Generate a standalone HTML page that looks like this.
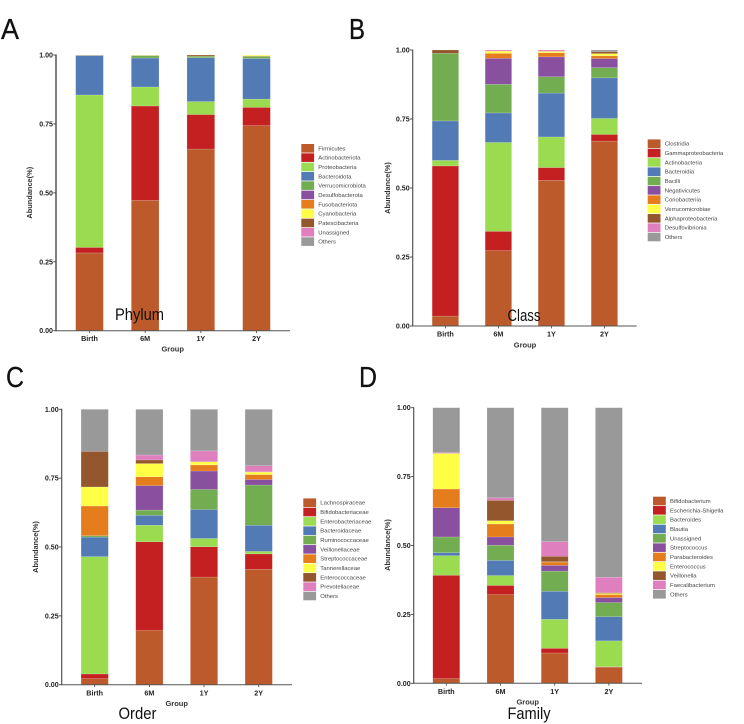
<!DOCTYPE html>
<html lang="en">
<head>
<meta charset="utf-8">
<title>Microbial composition stacked bar charts</title>
<style>
html,body{margin:0;padding:0;background:#fff;width:744px;height:724px;overflow:hidden}
#figure{display:block;filter:blur(0.35px)}
text{font-family:"Liberation Sans",Arial,sans-serif}
.panel-letter{font-size:29px;fill:#111;stroke:#111;stroke-width:0.3px}
.level-title{font-size:16.5px;fill:#111}
</style>
</head>
<body>
<svg id="figure" width="744" height="724" viewBox="0 0 744 724" xmlns="http://www.w3.org/2000/svg">
  <rect width="744" height="724" fill="#ffffff"/>
  <text class="panel-letter" x="1" y="39" textLength="18" lengthAdjust="spacingAndGlyphs">A</text>
  <text class="panel-letter" x="349" y="39" textLength="16" lengthAdjust="spacingAndGlyphs">B</text>
  <text class="panel-letter" x="6" y="387" textLength="18" lengthAdjust="spacingAndGlyphs">C</text>
  <text class="panel-letter" x="359" y="387" textLength="18" lengthAdjust="spacingAndGlyphs">D</text>
  <g id="charts"></g>
  <text class="level-title" x="115" y="320" textLength="49" lengthAdjust="spacingAndGlyphs">Phylum</text>
  <text class="level-title" x="507.5" y="321" textLength="33" lengthAdjust="spacingAndGlyphs">Class</text>
  <text class="level-title" x="118.5" y="719" textLength="38" lengthAdjust="spacingAndGlyphs">Order</text>
  <text class="level-title" x="507.5" y="719" textLength="43" lengthAdjust="spacingAndGlyphs">Family</text>
</svg>
<script>
const groups = ["Birth", "6M", "1Y", "2Y"];
const tickLabels = ["0.00", "0.25", "0.50", "0.75", "1.00"];
const tickValues = [0, 0.25, 0.5, 0.75, 1];
const seriesColors = ["#BD5A2B", "#C42021", "#9BDB50", "#527BB6", "#72AD52", "#8950A0", "#E57D1D", "#FFFF45", "#94562C", "#DF7FBD", "#999999"];

const phylumNames = ["Firmicutes", "Actinobacteriota", "Proteobacteria", "Bacteroidota", "Verrucomicrobiota", "Desulfobacterota", "Fusobacteriota", "Cyanobacteria", "Patescibacteria", "Unassigned", "Others"];
const phylumValues = [
  [0.282, 0.473, 0.659, 0.744],
  [0.020, 0.342, 0.125, 0.066],
  [0.553, 0.069, 0.047, 0.030],
  [0.143, 0.105, 0.159, 0.147],
  [0.001, 0.009, 0.006, 0.008],
  [0, 0, 0, 0],
  [0.001, 0.001, 0, 0.002],
  [0, 0.001, 0, 0.003],
  [0, 0, 0.004, 0],
  [0, 0, 0, 0],
  [0, 0, 0, 0]
];

const classNames = ["Clostridia", "Gammaproteobacteria", "Actinobacteria", "Bacteroidia", "Bacilli", "Negativicutes", "Coriobacteriia", "Verrucomicrobiae", "Alphaproteobacteria", "Desulfovibrionia", "Others"];
const classValues = [
  [0.036, 0.273, 0.528, 0.670],
  [0.544, 0.070, 0.046, 0.024],
  [0.020, 0.322, 0.111, 0.058],
  [0.143, 0.107, 0.159, 0.147],
  [0.245, 0.104, 0.059, 0.037],
  [0, 0.094, 0.072, 0.033],
  [0, 0.018, 0.015, 0.010],
  [0, 0.008, 0.005, 0.008],
  [0.012, 0, 0, 0.007],
  [0, 0.004, 0.005, 0],
  [0, 0, 0, 0.006]
];

const orderNames = ["Lachnospiraceae", "Bifidobacteriaceae", "Enterobacteriaceae", "Bacteroidaceae", "Ruminococcaceae", "Veillonellaceae", "Streptococcaceae", "Tannerellaceae", "Enterococcaceae", "Prevotellaceae", "Others"];
const orderValues = [
  [0.022, 0.197, 0.391, 0.419],
  [0.017, 0.322, 0.110, 0.056],
  [0.426, 0.060, 0.030, 0.009],
  [0.071, 0.036, 0.105, 0.095],
  [0.005, 0.019, 0.073, 0.146],
  [0, 0.089, 0.067, 0.020],
  [0.108, 0.032, 0.022, 0.018],
  [0.069, 0.048, 0.011, 0.009],
  [0.129, 0.013, 0.001, 0.001],
  [0, 0.018, 0.039, 0.022],
  [0.153, 0.166, 0.151, 0.205]
];

const familyNames = ["Bifidobacterium", "Escherichia-Shigella", "Bacteroides", "Blautia", "Unassigned", "Streptococcus", "Parabacteroides", "Enterococcus", "Veillonella", "Faecalibacterium", "Others"];
const familyValues = [
  [0.017, 0.322, 0.110, 0.058],
  [0.375, 0.033, 0.017, 0.002],
  [0.071, 0.036, 0.105, 0.094],
  [0.011, 0.055, 0.102, 0.088],
  [0.057, 0.055, 0.073, 0.051],
  [0.106, 0.030, 0.021, 0.018],
  [0.068, 0.047, 0.012, 0.011],
  [0.129, 0.012, 0.001, 0.004],
  [0, 0.074, 0.020, 0.003],
  [0.003, 0.009, 0.053, 0.056],
  [0.163, 0.327, 0.486, 0.615]
];

const svgNS = "http://www.w3.org/2000/svg";

function make(tag, parent, attrs, content) {
  const el = document.createElementNS(svgNS, tag);
  for (const key in attrs) el.setAttribute(key, attrs[key]);
  if (content !== undefined) el.textContent = content;
  parent.appendChild(el);
  return el;
}

function slug(s) {
  return s.toLowerCase().replace(/[^a-z0-9]+/g, "-");
}

function drawPanel(root, key, names, values, g) {
  const yScale = v => g.y0 - v * (g.y0 - g.y1);
  const xScale = i => g.firstBar + i * g.barStep;

  const panel = make("g", root, {});
  
  

  // stacked bars
  groups.forEach((group, gi) => {
    const bar = make("g", panel, {});
    
    
    let running = 0;
    names.forEach((name, si) => {
      const v = values[si][gi];
      if (v <= 0) return;
      const top = yScale(running + v);
      const bottom = yScale(running);
      const seg = make("rect", bar, {
        x: xScale(gi) - g.barWidth / 2,
        y: top,
        width: g.barWidth,
        height: bottom - top,
        fill: seriesColors[si],
        stroke: "rgba(255,255,255,0.3)",
        "stroke-width": 0.5
      });
      
      
      running += v;
    });
  });

  // y axis
  const yAxis = make("line", panel, {x1: g.axisX, x2: g.axisX, y1: g.y1 - 0.5, y2: g.y0 + 0.5, stroke: "#555", "stroke-width": g.axisWidth});
  
  

  tickValues.forEach((v, i) => {
    const tick = make("line", panel, {x1: g.axisX - 2.8, x2: g.axisX, y1: yScale(v), y2: yScale(v), stroke: "#444", "stroke-width": 0.9});
    
    
    const label = make("text", panel, {
      x: g.axisX - 3, y: yScale(v) + 2.5, "text-anchor": "end",
      "font-size": 7.1, "font-weight": "bold", fill: "#222"
    }, tickLabels[i]);
    
    
  });

  // x axis
  const xAxis = make("line", panel, {x1: g.axisX, x2: g.axisEnd, y1: g.y0, y2: g.y0, stroke: "#555", "stroke-width": 1});
  
  

  groups.forEach((group, gi) => {
    const tick = make("line", panel, {x1: xScale(gi), x2: xScale(gi), y1: g.y0, y2: g.y0 + 2.4, stroke: "#444", "stroke-width": 0.8});
    
    
    const label = make("text", panel, {
      x: xScale(gi), y: g.xLabelY, "text-anchor": "middle",
      "font-size": 7.2, "font-weight": "bold", fill: "#222"
    }, group);
    
    
  });

  const xTitle = make("text", panel, {
    x: g.xTitleX, y: g.xTitleY, "text-anchor": "middle",
    "font-size": 7.5, "font-weight": "bold", fill: "#333"
  }, "Group");
  
  

  const yTitle = make("text", panel, {
    x: g.yTitleX, y: g.yTitleY, "text-anchor": "middle",
    transform: "rotate(-90 " + g.yTitleX + " " + g.yTitleY + ")",
    "font-size": 7.4, "font-weight": "bold", fill: "#333"
  }, "Abundance(%)");
  
  

  // legend
  const legend = make("g", panel, {});
  
  
  names.forEach((name, si) => {
    const cy = g.legendY + si * 9.33;
    const entry = make("g", legend, {});
    
    
    const swatch = make("rect", entry, {x: g.legendX, y: cy - 4.3, width: 12.8, height: 8.6, fill: seriesColors[si]});
    
    
    const label = make("text", entry, {x: g.legendX + 17, y: cy + 2, "font-size": 5.9, fill: "#444"}, name);
    
    
  });
}

const charts = document.getElementById("charts");

drawPanel(charts, "phylum", phylumNames, phylumValues, {
  axisX: 56, axisEnd: 290, axisWidth: 1.5, y0: 330.7, y1: 55, firstBar: 89.5, barStep: 55.67, barWidth: 27.7,
  xLabelY: 341, xTitleX: 172.7, xTitleY: 351.5, yTitleX: 32, yTitleY: 192.7, legendX: 301.3, legendY: 148.3
});
drawPanel(charts, "class", classNames, classValues, {
  axisX: 412.7, axisEnd: 636.7, axisWidth: 1.2, y0: 326, y1: 50, firstBar: 445.4, barStep: 53, barWidth: 26.5,
  xLabelY: 336.7, xTitleX: 525, xTitleY: 347.5, yTitleX: 390, yTitleY: 188, legendX: 647.7, legendY: 143.7
});
drawPanel(charts, "order", orderNames, orderValues, {
  axisX: 61.7, axisEnd: 292, axisWidth: 1.2, y0: 684.7, y1: 409.3, firstBar: 94.7, barStep: 54.67, barWidth: 27.3,
  xLabelY: 695.3, xTitleX: 176.7, xTitleY: 706, yTitleX: 38, yTitleY: 547, legendX: 303.3, legendY: 502.7
});
drawPanel(charts, "family", familyNames, familyValues, {
  axisX: 413.7, axisEnd: 642, axisWidth: 1.2, y0: 683.3, y1: 407.7, firstBar: 446.3, barStep: 54.2, barWidth: 27,
  xLabelY: 694, xTitleX: 527.7, xTitleY: 704.7, yTitleX: 390, yTitleY: 545, legendX: 653, legendY: 501
});
</script>
</body>
</html>
